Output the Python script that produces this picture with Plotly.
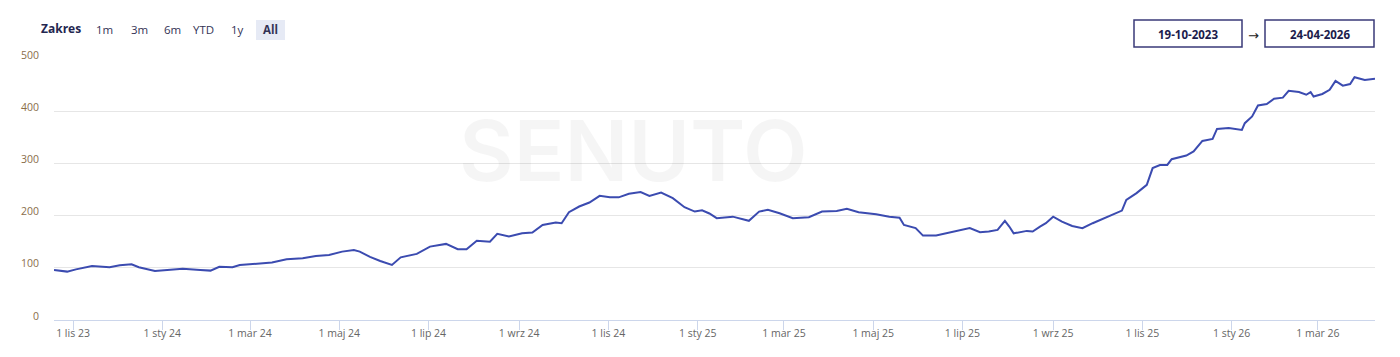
import plotly.graph_objects as go

# ---- data ----
dates = [
    "2023-10-19", "2023-10-28", "2023-11-03", "2023-11-14", "2023-11-26", "2023-12-03",
    "2023-12-11", "2023-12-16", "2023-12-27", "2024-01-04", "2024-01-15", "2024-01-27",
    "2024-02-03", "2024-02-09", "2024-02-18", "2024-02-23", "2024-03-05", "2024-03-16",
    "2024-03-26", "2024-04-06", "2024-04-15", "2024-04-24", "2024-05-03", "2024-05-11",
    "2024-05-15", "2024-05-22", "2024-05-29", "2024-06-06", "2024-06-12", "2024-06-23",
    "2024-07-02", "2024-07-13", "2024-07-21", "2024-07-27", "2024-08-03", "2024-08-12",
    "2024-08-17", "2024-08-25", "2024-09-03", "2024-09-10", "2024-09-17", "2024-09-26",
    "2024-09-30", "2024-10-05", "2024-10-12", "2024-10-19", "2024-10-26", "2024-11-02",
    "2024-11-08", "2024-11-15", "2024-11-23", "2024-11-29", "2024-12-07", "2024-12-15",
    "2024-12-23", "2024-12-30", "2025-01-04", "2025-01-09", "2025-01-14", "2025-01-25",
    "2025-02-05", "2025-02-12", "2025-02-18", "2025-02-26", "2025-03-07", "2025-03-18",
    "2025-03-27", "2025-04-06", "2025-04-13", "2025-04-21", "2025-05-03", "2025-05-12",
    "2025-05-19", "2025-05-22", "2025-05-30", "2025-06-04", "2025-06-13", "2025-06-20",
    "2025-06-29", "2025-07-06", "2025-07-13", "2025-07-19", "2025-07-25", "2025-07-30",
    "2025-08-02", "2025-08-05", "2025-08-14", "2025-08-18", "2025-08-23", "2025-08-27",
    "2025-09-01", "2025-09-07", "2025-09-14", "2025-09-21", "2025-09-28", "2025-10-07",
    "2025-10-18", "2025-10-21", "2025-10-28", "2025-11-04", "2025-11-08", "2025-11-13",
    "2025-11-18", "2025-11-21", "2025-12-01", "2025-12-06", "2025-12-12", "2025-12-19",
    "2025-12-22", "2025-12-30", "2026-01-08", "2026-01-10", "2026-01-15", "2026-01-19",
    "2026-01-25", "2026-01-30", "2026-02-05", "2026-02-09", "2026-02-16", "2026-02-21",
    "2026-02-24", "2026-02-26", "2026-03-04", "2026-03-09", "2026-03-13", "2026-03-18",
    "2026-03-23", "2026-03-26", "2026-04-02", "2026-04-09",
]
values = [
    96, 92.7, 97, 103.6, 101, 105,
    106.8, 101, 94, 96, 98.4, 96,
    94.6, 102, 101, 105.5, 107.4, 110,
    116.4, 118.3, 122.7, 124.7, 131, 134,
    131, 121, 113, 105.5, 120, 126.6,
    140.6, 145.8, 135.6, 135.6, 152, 150,
    165, 160, 166, 167.5, 182, 186.6,
    185.4, 206.5, 217.4, 225, 237.8, 235,
    235, 241.7, 245, 237.8, 244, 233.4,
    216, 207.7, 210, 204, 195, 198,
    190, 207.7, 211, 204.6, 195, 197,
    207.7, 209, 213, 206.5, 202.7, 198,
    196, 182, 176, 161.7, 161.7, 166,
    172.6, 176, 168, 169.4, 172.6, 190,
    179, 166, 170.7, 169.4, 179, 185.4,
    198, 188.5, 180, 176, 185.4, 196,
    209.6, 230, 243, 259, 291, 297,
    297, 308, 315, 323, 343, 347,
    366, 367.6, 364, 377, 390, 411,
    413.7, 424, 426, 439, 436.7, 431.5,
    436.7, 428, 433, 441, 458, 449,
    452, 465, 460, 462,
]
tick_dates = ["2023-11-01", "2024-01-01", "2024-03-01", "2024-05-01", "2024-07-01",
              "2024-09-01", "2024-11-01", "2025-01-01", "2025-03-01", "2025-05-01",
              "2025-07-01", "2025-09-01", "2025-11-01", "2026-01-01", "2026-03-01"]
tick_labels = ["1 lis 23", "1 sty 24", "1 mar 24", "1 maj 24", "1 lip 24",
               "1 wrz 24", "1 lis 24", "1 sty 25", "1 mar 25", "1 maj 25",
               "1 lip 25", "1 wrz 25", "1 lis 25", "1 sty 26", "1 mar 26"]
y_ticks = [0, 100, 200, 300, 400, 500]
range_buttons = ["1m", "3m", "6m", "YTD", "1y", "All"]
date_from = "19-10-2023"
date_to = "24-04-2026"

# ---- layout geometry (pixels) ----
W, H = 1400, 357
L, R, T, B = 54, 25, 59, 37
PW, PH = W - L - R, H - T - B


def px(x):
    return (x - L) / PW


def py(y):
    return (H - B - y) / PH


FONT = "Open Sans"
NAVY = "#23264f"

fig = go.Figure()
fig.add_trace(go.Scatter(
    x=dates, y=values, mode="lines",
    line=dict(color="#3b4bb0", width=2),
    hoverinfo="x+y", showlegend=False,
))

annotations = []
shapes = []

# watermark
annotations.append(dict(
    x=px(633), y=py(150), xref="paper", yref="paper", text="SENUTO",
    showarrow=False, xanchor="center", yanchor="middle",
    font=dict(family="Inter", size=84, color="rgba(0,0,0,0.04)", weight=600),
))

# range selector
annotations.append(dict(
    x=px(39), y=py(29), xref="paper", yref="paper", text="<b>Zakres</b>",
    showarrow=False, xanchor="left", yanchor="middle",
    font=dict(family=FONT, size=12, color=NAVY),
))
btn_x = [104, 139, 172, 203, 237, 270]
shapes.append(dict(
    type="rect", xref="paper", yref="paper",
    x0=px(256), x1=px(285), y0=py(40), y1=py(20),
    fillcolor="#e6eaf5", line=dict(width=0), layer="below",
))
for lbl, bx in zip(range_buttons, btn_x):
    txt = f"<b>{lbl}</b>" if lbl == "All" else lbl
    annotations.append(dict(
        x=px(bx), y=py(30), xref="paper", yref="paper", text=txt,
        showarrow=False, xanchor="center", yanchor="middle",
        font=dict(family=FONT, size=11.5, color="#333355"),
    ))

# date input boxes
for (x0, x1), txt in zip([(1134, 1242), (1265, 1374)], [date_from, date_to]):
    shapes.append(dict(
        type="rect", xref="paper", yref="paper",
        x0=px(x0), x1=px(x1), y0=py(47), y1=py(20),
        fillcolor="white", line=dict(color="#3a3a78", width=1.5),
    ))
    annotations.append(dict(
        x=px((x0 + x1) / 2), y=py(34), xref="paper", yref="paper",
        text=f"<b>{txt}</b>", showarrow=False, xanchor="center", yanchor="middle",
        font=dict(family=FONT, size=11.5, color="#1c1c4c"),
    ))
annotations.append(dict(
    x=px(1253), y=py(36), xref="paper", yref="paper", text="→",
    showarrow=False, xanchor="center", yanchor="middle",
    font=dict(family="DejaVu Sans", size=13, color="#222"),
))

fig.update_layout(
    width=W, height=H,
    margin=dict(l=L, r=R, t=T, b=B, pad=0),
    paper_bgcolor="white", plot_bgcolor="white",
    font=dict(family=FONT),
    annotations=annotations, shapes=shapes,
    xaxis=dict(
        type="date", range=["2023-10-19", "2026-04-09"],
        tickvals=tick_dates, ticktext=tick_labels,
        showgrid=False, zeroline=False,
        showline=True, linecolor="#ccd6eb", linewidth=1,
        ticks="outside", ticklen=9, tickcolor="#ccd6eb", tickwidth=1,
        tickfont=dict(family=FONT, size=10.5, color="#666666"),
        ticklabelstandoff=-6,
    ),
    yaxis=dict(
        range=[0, 500], tickvals=y_ticks,
        showgrid=True, gridcolor="#e6e6e6", gridwidth=1,
        zeroline=False, showline=False, ticks="",
        tickfont=dict(family=FONT, size=10.5, color="#8a6d4a"),
        ticklabelstandoff=14, ticklabelshift=-4,
    ),
)

fig.write_html("out.html")
